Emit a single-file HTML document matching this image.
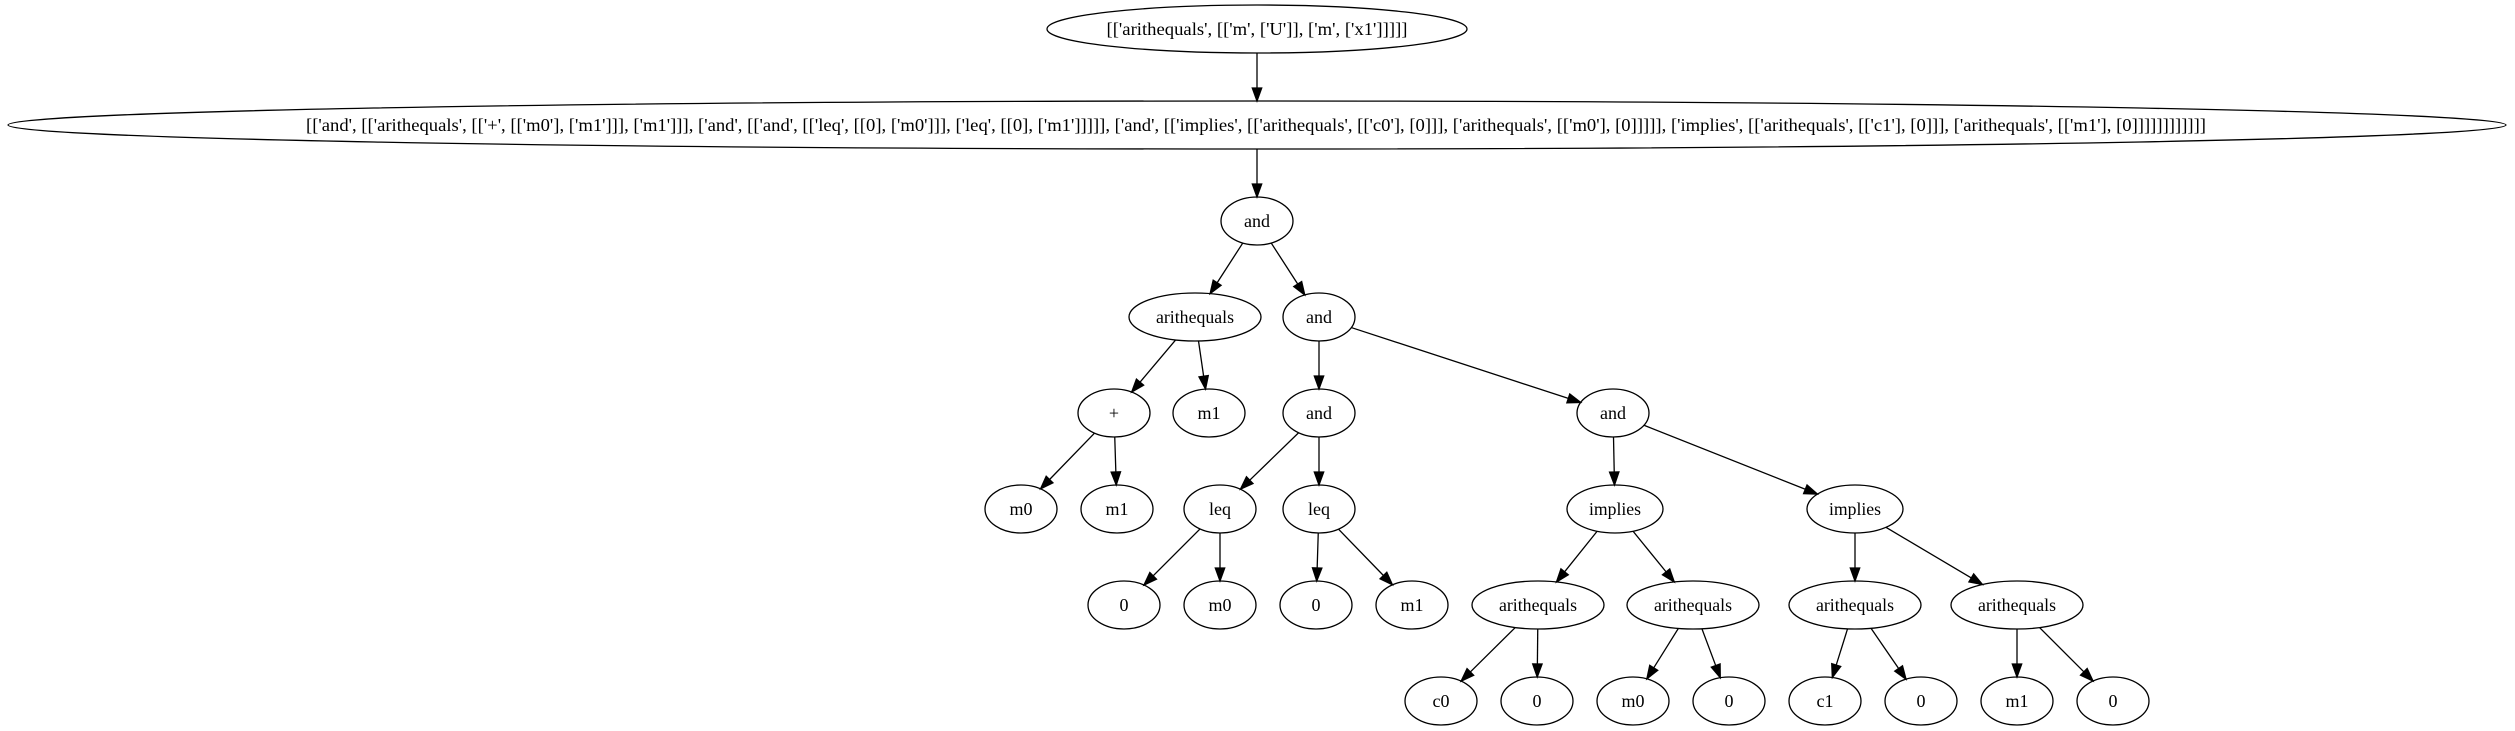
<!DOCTYPE html>
<html><head><meta charset="utf-8"><style>
html,body{margin:0;padding:0;background:#fff;}
svg{display:block;}
text{font-family:"Liberation Serif",serif;font-size:18px;fill:#000;text-anchor:middle;}
ellipse{fill:none;stroke:#000;stroke-width:1.3;}
</style></head><body>
<svg id="g" width="2515" height="731" viewBox="0 0 2515 731" xmlns="http://www.w3.org/2000/svg">
<rect width="2515" height="731" fill="#fff"/>
<g id="edges"></g>
<ellipse cx="1257" cy="29" rx="210" ry="24"/>
<text x="1257" y="35" textLength="301" lengthAdjust="spacingAndGlyphs">[['arithequals', [['m', ['U']], ['m', ['x1']]]]]</text>
<ellipse cx="1257" cy="125" rx="1249" ry="24"/>
<text x="1256" y="131" textLength="1900" lengthAdjust="spacingAndGlyphs">[['and', [['arithequals', [['+', [['m0'], ['m1']]], ['m1']]], ['and', [['and', [['leq', [[0], ['m0']]], ['leq', [[0], ['m1']]]]], ['and', [['implies', [['arithequals', [['c0'], [0]]], ['arithequals', [['m0'], [0]]]]], ['implies', [['arithequals', [['c1'], [0]]], ['arithequals', [['m1'], [0]]]]]]]]]]]]</text>

<ellipse cx="1257" cy="221" rx="36" ry="24"/><text x="1257" y="227">and</text>

<ellipse cx="1195" cy="317" rx="66" ry="24"/><text x="1195" y="323" textLength="78" lengthAdjust="spacingAndGlyphs">arithequals</text>
<ellipse cx="1319" cy="317" rx="36" ry="24"/><text x="1319" y="323">and</text>

<ellipse cx="1114" cy="413" rx="36" ry="24"/><text x="1114" y="419">+</text>
<ellipse cx="1209" cy="413" rx="36" ry="24"/><text x="1209" y="419">m1</text>
<ellipse cx="1319" cy="413" rx="36" ry="24"/><text x="1319" y="419">and</text>
<ellipse cx="1613" cy="413" rx="36" ry="24"/><text x="1613" y="419">and</text>

<ellipse cx="1021" cy="509" rx="36" ry="24"/><text x="1021" y="515">m0</text>
<ellipse cx="1117" cy="509" rx="36" ry="24"/><text x="1117" y="515">m1</text>
<ellipse cx="1220" cy="509" rx="36" ry="24"/><text x="1220" y="515">leq</text>
<ellipse cx="1319" cy="509" rx="36" ry="24"/><text x="1319" y="515">leq</text>
<ellipse cx="1615" cy="509" rx="48" ry="24"/><text x="1615" y="515" textLength="52" lengthAdjust="spacingAndGlyphs">implies</text>
<ellipse cx="1855" cy="509" rx="48" ry="24"/><text x="1855" y="515" textLength="52" lengthAdjust="spacingAndGlyphs">implies</text>

<ellipse cx="1124" cy="605" rx="36" ry="24"/><text x="1124" y="611">0</text>
<ellipse cx="1220" cy="605" rx="36" ry="24"/><text x="1220" y="611">m0</text>
<ellipse cx="1316" cy="605" rx="36" ry="24"/><text x="1316" y="611">0</text>
<ellipse cx="1412" cy="605" rx="36" ry="24"/><text x="1412" y="611">m1</text>
<ellipse cx="1538" cy="605" rx="66" ry="24"/><text x="1538" y="611" textLength="78" lengthAdjust="spacingAndGlyphs">arithequals</text>
<ellipse cx="1693" cy="605" rx="66" ry="24"/><text x="1693" y="611" textLength="78" lengthAdjust="spacingAndGlyphs">arithequals</text>
<ellipse cx="1855" cy="605" rx="66" ry="24"/><text x="1855" y="611" textLength="78" lengthAdjust="spacingAndGlyphs">arithequals</text>
<ellipse cx="2017" cy="605" rx="66" ry="24"/><text x="2017" y="611" textLength="78" lengthAdjust="spacingAndGlyphs">arithequals</text>

<ellipse cx="1441" cy="701" rx="36" ry="24"/><text x="1441" y="707">c0</text>
<ellipse cx="1537" cy="701" rx="36" ry="24"/><text x="1537" y="707">0</text>
<ellipse cx="1633" cy="701" rx="36" ry="24"/><text x="1633" y="707">m0</text>
<ellipse cx="1729" cy="701" rx="36" ry="24"/><text x="1729" y="707">0</text>
<ellipse cx="1825" cy="701" rx="36" ry="24"/><text x="1825" y="707">c1</text>
<ellipse cx="1921" cy="701" rx="36" ry="24"/><text x="1921" y="707">0</text>
<ellipse cx="2017" cy="701" rx="36" ry="24"/><text x="2017" y="707">m1</text>
<ellipse cx="2113" cy="701" rx="36" ry="24"/><text x="2113" y="707">0</text>
</svg>
<script>
(function(){
var E=[
[1257,29,210,1257,125,1249],
[1257,125,1249,1257,221,36],
[1257,221,36,1195,317,66],[1257,221,36,1319,317,36],
[1195,317,66,1114,413,36],[1195,317,66,1209,413,36],
[1319,317,36,1319,413,36],[1319,317,36,1613,413,36],
[1114,413,36,1021,509,36],[1114,413,36,1117,509,36],
[1319,413,36,1220,509,36],[1319,413,36,1319,509,36],
[1613,413,36,1615,509,48],[1613,413,36,1855,509,48],
[1220,509,36,1124,605,36],[1220,509,36,1220,605,36],
[1319,509,36,1316,605,36],[1319,509,36,1412,605,36],
[1615,509,48,1538,605,66],[1615,509,48,1693,605,66],
[1855,509,48,1855,605,66],[1855,509,48,2017,605,66],
[1538,605,66,1441,701,36],[1538,605,66,1537,701,36],
[1693,605,66,1633,701,36],[1693,605,66,1729,701,36],
[1855,605,66,1825,701,36],[1855,605,66,1921,701,36],
[2017,605,66,2017,701,36],[2017,605,66,2113,701,36]];
var ry=24,s='';
function bd(cx,cy,rx,dx,dy){var t=1/Math.sqrt(dx*dx/(rx*rx)+dy*dy/(ry*ry));return [cx+dx*t,cy+dy*t];}
E.forEach(function(e){
var dx=e[3]-e[0],dy=e[4]-e[1],L=Math.sqrt(dx*dx+dy*dy),ux=dx/L,uy=dy/L;
var a=bd(e[0],e[1],e[2],dx,dy),b=bd(e[3],e[4],e[5],-dx,-dy);
var al=13,hw=4.7,bx=b[0]-ux*al,by=b[1]-uy*al;
s+='<line x1="'+a[0]+'" y1="'+a[1]+'" x2="'+bx+'" y2="'+by+'" stroke="#000" stroke-width="1.3"/>';
s+='<polygon points="'+b[0]+','+b[1]+' '+(bx-uy*hw)+','+(by+ux*hw)+' '+(bx+uy*hw)+','+(by-ux*hw)+'" fill="#000" stroke="#000" stroke-width="1.3"/>';
});
document.getElementById('edges').innerHTML=s;
})();
</script>
</body></html>
